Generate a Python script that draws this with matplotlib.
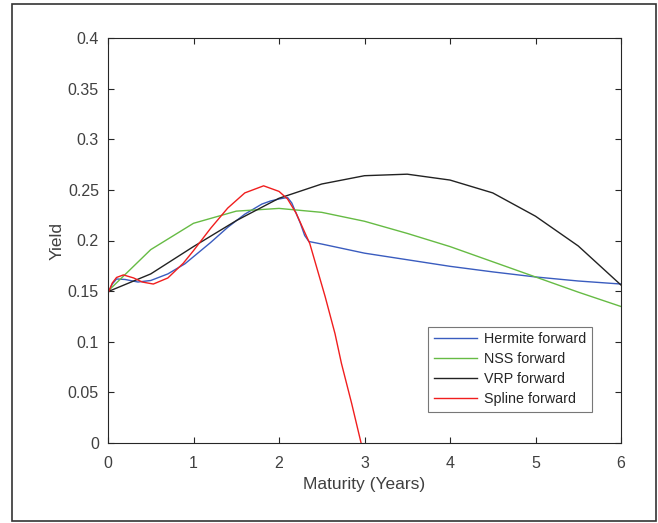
import numpy as np
import matplotlib.pyplot as plt
from matplotlib.patches import Rectangle

plt.rcParams['font.family'] = ['Liberation Sans', 'DejaVu Sans']

# VRP and NSS forward, read at half-year knots
knots = [0, 0.5, 1, 1.5, 2, 2.5, 3, 3.5, 4, 4.5, 5, 5.5, 6]
vrp = [0.1495, 0.167, 0.194, 0.2196, 0.2417, 0.2558, 0.264, 0.2655, 0.2597, 0.247, 0.224, 0.1946, 0.156]
nss = [0.150, 0.191, 0.217, 0.229, 0.2317, 0.2278, 0.219, 0.207, 0.194, 0.179, 0.164, 0.149, 0.1348]

# Hermite forward
herm_t = [0, 0.05, 0.1, 0.2, 0.35, 0.5, 0.7, 0.9, 1.0, 1.2, 1.4, 1.6, 1.8, 1.9, 2.0, 2.1,
          2.15, 2.25, 2.3, 2.35, 2.5, 3.0, 3.5, 4.0, 4.5, 5.0, 5.5, 6.0]
herm = [0.148, 0.157, 0.162, 0.1615, 0.159, 0.1605, 0.167, 0.177, 0.184, 0.198, 0.213, 0.226,
        0.236, 0.239, 0.241, 0.2425, 0.237, 0.217, 0.205, 0.199, 0.1965, 0.1875, 0.181, 0.1745,
        0.169, 0.164, 0.160, 0.157]

# Spline forward
spl_t = [0, 0.05, 0.1, 0.18, 0.3, 0.4, 0.53, 0.7, 0.88, 1.0, 1.2, 1.4, 1.6, 1.82, 2.0, 2.1,
         2.2, 2.36, 2.54, 2.655, 2.73, 2.85, 2.96, 3.0]
spl = [0.148, 0.158, 0.1635, 0.166, 0.163, 0.159, 0.157, 0.163, 0.1775, 0.19, 0.212, 0.232,
       0.247, 0.254, 0.2485, 0.241, 0.227, 0.197, 0.1445, 0.108, 0.0787, 0.039, 0.0, -0.015]

fig = plt.figure(figsize=(6.58, 5.23), dpi=100)
ax = fig.add_axes([108/658, 80/523, 513/658, 405/523])

ax.plot(herm_t, herm, color='#3a5cbf', lw=1.0, label='Hermite forward')
ax.plot(knots, nss, color='#66bb44', lw=1.0, label='NSS forward')
ax.plot(knots, vrp, color='#222222', lw=1.0, label='VRP forward')
ax.plot(spl_t, spl, color='#f01e1e', lw=1.0, label='Spline forward')

ax.set_xlim(0, 6)
ax.set_ylim(0, 0.4)
ax.set_xticks(range(7))
ax.set_yticks(np.arange(0, 0.401, 0.05))
ax.set_yticklabels(['0', '0.05', '0.1', '0.15', '0.2', '0.25', '0.3', '0.35', '0.4'])
ax.tick_params(direction='in', top=True, right=True, length=4, width=0.8,
               colors='#262626', labelcolor='#404040', labelsize=11.5)
ax.tick_params(axis='x', pad=9.5)
ax.tick_params(axis='y', pad=6.5)
for s in ax.spines.values():
    s.set_color('#262626')
    s.set_linewidth(0.8)

ax.set_xlabel('Maturity (Years)', fontsize=12.5, color='#404040', labelpad=4)
ax.set_ylabel('Yield', fontsize=12.5, color='#404040', labelpad=2)

leg = ax.legend(loc='lower right', bbox_to_anchor=(0.943, 0.0765), borderaxespad=0,
                fancybox=False, edgecolor='#555555', fontsize=10.3, handlelength=3.0,
                labelspacing=0.42, borderpad=0.4, handletextpad=0.5)
leg.get_frame().set_linewidth(0.8)
for t in leg.get_texts():
    t.set_color('#262626')

fig.patches.append(Rectangle((12/658, 2/523), 644/658, 517/523, transform=fig.transFigure,
                             fill=False, edgecolor='#333333', lw=1.2))

fig.savefig('out.png', dpi=100)
